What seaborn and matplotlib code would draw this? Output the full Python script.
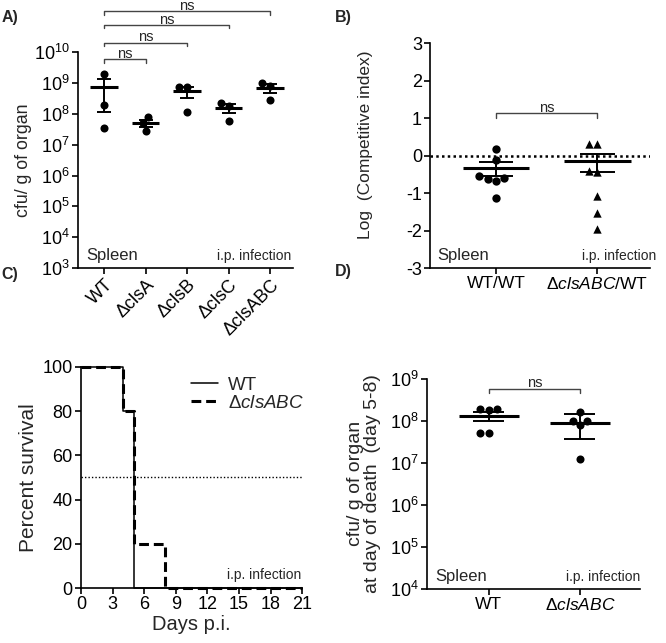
import numpy as np
import pandas as pd
import matplotlib
matplotlib.use("Agg")
import matplotlib.pyplot as plt
import seaborn as sns

# Panel A: cfu / g spleen per strain
a_groups = ["WT", "ΔclsA", "ΔclsB", "ΔclsC", "ΔclsABC"]
a_wt = [2.0e9, 2.0e8, 3.5e7]
a_clsA = [7.6e7, 4.9e7, 2.8e7]
a_clsB = [7.6e8, 7.6e8, 1.17e8]
a_clsC = [2.3e8, 1.8e8, 5.8e7]
a_clsABC = [9.8e8, 7.9e8, 2.8e8]
a_exponents = [3, 4, 5, 6, 7, 8, 9, 10]

# Panel B: log competitive index
b_groups = ["WT/WT", r"$\mathit{\Delta clsABC}$/WT"]
b_wt = [0.18, -0.13, -0.55, -0.62, -0.68, -0.61, -1.13]
b_mut = [0.32, 0.32, -0.40, -0.44, -1.07, -1.53, -1.96]
b_ticks = [-3, -2, -1, 0, 1, 2, 3]

# Panel C: survival
c_days_wt = [0, 4, 5, 21]
c_surv_wt = [100, 80, 0, 0]
c_days_mut = [0, 4, 5, 8, 21]
c_surv_mut = [100, 80, 20, 0, 0]
c_xticks = [0, 3, 6, 9, 12, 15, 18, 21]
c_yticks = [0, 20, 40, 60, 80, 100]

# Panel D: cfu at day of death
d_groups = ["WT", r"$\Delta\mathit{clsABC}$"]
d_wt = [1.9e8, 1.9e8, 1.8e8, 5.2e7, 5.2e7]
d_mut = [1.62e8, 1.0e8, 1.0e8, 7.9e7, 1.23e7]
d_err = ["sem", "sd"]
d_exponents = [4, 5, 6, 7, 8, 9]

sns.set_theme(style="ticks")
plt.rcParams["font.family"] = ["Liberation Sans", "DejaVu Sans"]
plt.rcParams["mathtext.fontset"] = "custom"
plt.rcParams["mathtext.rm"] = "Liberation Sans"
plt.rcParams["mathtext.it"] = "Liberation Sans:italic"
plt.rcParams["mathtext.default"] = "regular"
plt.rcParams["axes.linewidth"] = 1.2
plt.rcParams["xtick.major.width"] = 1.2
plt.rcParams["ytick.major.width"] = 1.2
plt.rcParams["xtick.major.size"] = 4
plt.rcParams["ytick.major.size"] = 4
plt.rcParams["axes.edgecolor"] = "black"
plt.rcParams["xtick.color"] = "black"
plt.rcParams["ytick.color"] = "black"

BRACKET = "#444444"
TICK_FS = 13
NOTE_FS = 10


def mean_err(vals, kind="sem"):
    v = np.asarray(vals, dtype=float)
    m = v.mean()
    e = v.std(ddof=1)
    if kind == "sem":
        e = e / np.sqrt(len(v))
    return m, e


def draw_mean_bars(ax, pos, mean, lo, hi, mean_hw=0.33, cap_hw=0.17):
    ax.hlines(mean, pos - mean_hw, pos + mean_hw, color="black", lw=2.2, zorder=4)
    ax.vlines(pos, lo, hi, color="black", lw=1.4, zorder=4)
    ax.hlines([lo, hi], pos - cap_hw, pos + cap_hw, color="black", lw=1.4, zorder=4)


def bracket(ax, x0, x1, y, leg, text="ns", size=10.5, log=False):
    ylow = y / leg if log else y - leg
    ax.plot([x0, x0, x1, x1], [ylow, y, y, ylow], color=BRACKET, lw=1.0, clip_on=False)
    ax.annotate(text, ((x0 + x1) / 2, y), xytext=(0, 1.0), textcoords="offset points",
                ha="center", va="baseline", fontsize=size, annotation_clip=False)


def notes(ax, x_right, left="Spleen", x_left=0.04):
    if left:
        ax.text(x_left, 0.025, left, transform=ax.transAxes, fontsize=12, va="bottom")
    ax.text(x_right, 0.025, "i.p. infection", transform=ax.transAxes, fontsize=NOTE_FS,
            va="bottom", ha="right")


fig = plt.figure(figsize=(6.66, 6.43), dpi=100)

# ---------------- Panel A ----------------
axA = fig.add_axes([0.117, 0.583, 0.323, 0.336])
axA.set_yscale("log")
a_sets = [a_wt, a_clsA, a_clsB, a_clsC, a_clsABC]
df_a = pd.DataFrame({
    "group": [g for g, s in zip(a_groups, a_sets) for _ in s],
    "cfu": [v for s in a_sets for v in s],
})
sns.swarmplot(data=df_a, x="group", y="cfu", order=a_groups, color="black",
              size=5.8, ax=axA, zorder=3)
for i, s in enumerate(a_sets):
    m, e = mean_err(s, "sem")
    draw_mean_bars(axA, i, m, max(m - e, 1e3), m + e)
axA.set_ylim(1e3, 1e10)
axA.set_xlim(-0.63, 4.55)
axA.set_yticks([10.0 ** k for k in a_exponents])
axA.set_yticklabels([r"$10^{%d}$" % k for k in a_exponents], fontsize=TICK_FS)
axA.yaxis.set_minor_locator(matplotlib.ticker.NullLocator())
axA.set_xticks(range(len(a_groups)))
axA.set_xticklabels(a_groups, rotation=45, ha="right", rotation_mode="anchor",
                    fontsize=TICK_FS)
axA.set_xlabel("")
axA.set_ylabel("cfu/ g of organ", fontsize=12.8, labelpad=1)
notes(axA, 0.99)
for j, yb in enumerate([10 ** 9.76, 10 ** 10.31, 10 ** 10.88, 10 ** 11.32]):
    bracket(axA, 0, j + 1, yb, 10 ** 0.11, log=True)

# ---------------- Panel B ----------------
axB = fig.add_axes([0.646, 0.583, 0.330, 0.350])
df_b = pd.DataFrame({
    "group": [b_groups[0]] * len(b_wt) + [b_groups[1]] * len(b_mut),
    "ci": b_wt + b_mut,
})
for g, mk in zip(b_groups, ["o", "^"]):
    sns.swarmplot(data=df_b[df_b["group"] == g], x="group", y="ci", order=b_groups,
                  color="black", marker=mk, size=6.0, ax=axB, zorder=3)
axB.axhline(0, color="black", lw=1.8, ls=(0, (1, 1.3)), zorder=2)
for i, s in enumerate([b_wt, b_mut]):
    lin = 10.0 ** np.asarray(s)
    m, e = mean_err(lin, "sem")
    draw_mean_bars(axB, i, np.log10(m), np.log10(m - e), np.log10(m + e))
axB.set_ylim(-3, 3)
axB.set_xlim(-0.65, 1.52)
axB.set_yticks(b_ticks)
axB.set_yticklabels([str(t) for t in b_ticks], fontsize=TICK_FS)
axB.set_xticks([0, 1])
axB.set_xticklabels(b_groups, fontsize=12.5)
axB.set_xlabel("")
axB.set_ylabel("Log  (Competitive index)", fontsize=12.5)
axB.yaxis.set_label_coords(-0.26, 0.55)
notes(axB, 1.03, x_left=0.03)
bracket(axB, 0, 1, 1.13, 0.13)

# ---------------- Panel C ----------------
axC = fig.add_axes([0.1216, 0.0855, 0.332, 0.344])
df_c = pd.concat([
    pd.DataFrame({"day": c_days_wt, "pct": c_surv_wt, "strain": "WT"}),
    pd.DataFrame({"day": c_days_mut, "pct": c_surv_mut, "strain": "mut"}),
])
axC.axhline(50, color="black", lw=1.0, ls=(0, (1, 1.5)), zorder=1)
sns.lineplot(data=df_c[df_c["strain"] == "WT"], x="day", y="pct", color="black",
             lw=1.1, drawstyle="steps-post", ax=axC, label="WT", zorder=3, clip_on=False)
sns.lineplot(data=df_c[df_c["strain"] == "mut"], x="day", y="pct", color="black",
             lw=2.2, ls=(0, (3.2, 1.6)), drawstyle="steps-post", ax=axC,
             label=r"$\Delta\mathit{clsABC}$", zorder=4, clip_on=False)
axC.set_xlim(0, 21)
axC.set_ylim(0, 100)
axC.set_xticks(c_xticks)
axC.set_xticklabels([str(t) for t in c_xticks], fontsize=TICK_FS)
axC.set_yticks(c_yticks)
axC.set_yticklabels([str(t) for t in c_yticks], fontsize=TICK_FS)
axC.set_xlabel("Days p.i.", fontsize=14.5, labelpad=1)
axC.set_ylabel("Percent survival", fontsize=15, labelpad=3)
axC.legend(loc="upper right", frameon=False, fontsize=13.5, handlelength=1.45,
           handletextpad=0.55, labelspacing=0.05, borderaxespad=0.3,
           bbox_to_anchor=(1.07, 1.015))
notes(axC, 0.995, left=None)

# ---------------- Panel D ----------------
axD = fig.add_axes([0.641, 0.084, 0.320, 0.327])
axD.set_yscale("log")
df_d = pd.DataFrame({
    "group": [d_groups[0]] * len(d_wt) + [d_groups[1]] * len(d_mut),
    "cfu": d_wt + d_mut,
})
sns.swarmplot(data=df_d, x="group", y="cfu", order=d_groups, color="black",
              size=5.8, ax=axD, zorder=3)
for i, (s, kind) in enumerate(zip([d_wt, d_mut], d_err)):
    m, e = mean_err(s, kind)
    draw_mean_bars(axD, i, m, m - e, m + e)
axD.set_ylim(1e4, 1e9)
axD.set_xlim(-0.68, 1.66)
axD.set_yticks([10.0 ** k for k in d_exponents])
axD.set_yticklabels([r"$10^{%d}$" % k for k in d_exponents], fontsize=TICK_FS)
axD.yaxis.set_minor_locator(matplotlib.ticker.NullLocator())
axD.set_xticks([0, 1])
axD.set_xticklabels(d_groups, fontsize=12.5)
axD.set_xlabel("")
axD.set_ylabel("cfu/ g of organ\nat day of death  (day 5-8)", fontsize=14,
               labelpad=6, linespacing=1.0)
notes(axD, 1.0)
bracket(axD, 0, 1, 10 ** 8.76, 10 ** 0.09, log=True)

for ax in [axA, axB, axC, axD]:
    sns.despine(ax=ax)
    ax.tick_params(axis="both", direction="out", pad=2)

fig.text(0.002, 0.985, "A)", fontsize=11.5, weight="bold", va="top")
fig.text(0.503, 0.985, "B)", fontsize=11.5, weight="bold", va="top")
fig.text(0.002, 0.585, "C)", fontsize=11.5, weight="bold", va="top")
fig.text(0.503, 0.590, "D)", fontsize=11.5, weight="bold", va="top")

fig.savefig("out.png", dpi=100)
